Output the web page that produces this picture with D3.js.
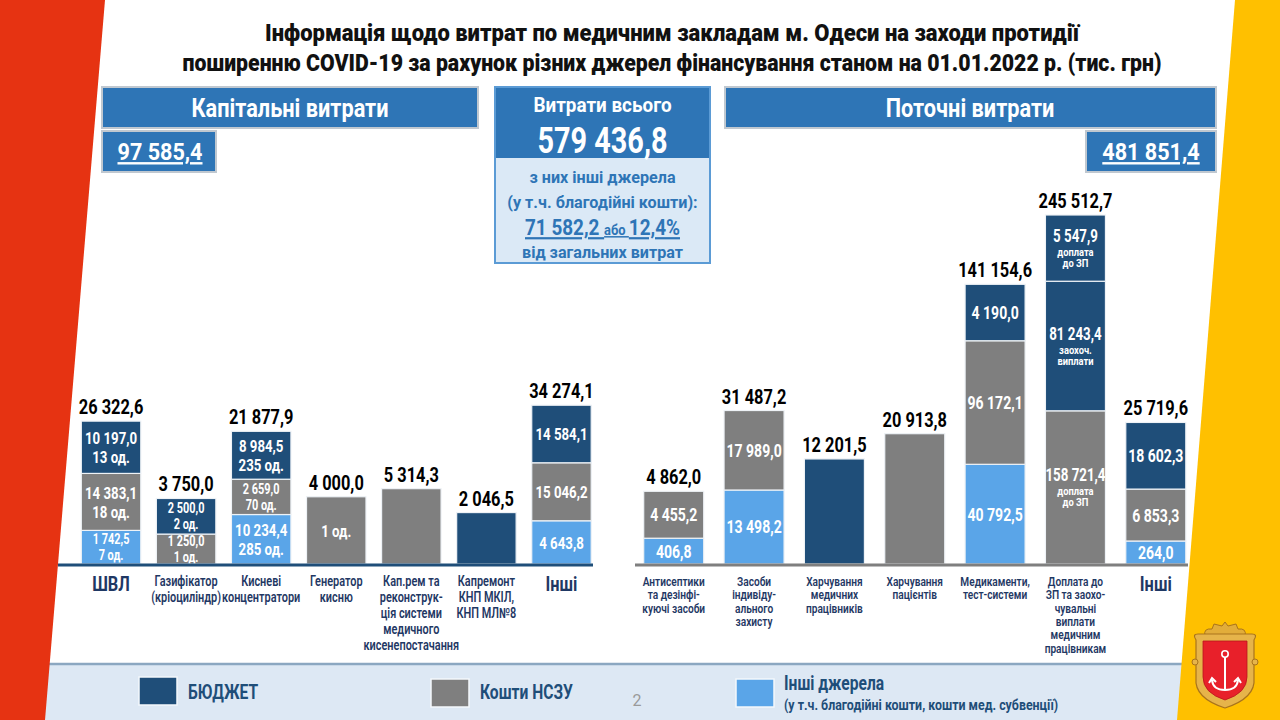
<!DOCTYPE html>
<html><head><meta charset="utf-8">
<script src="https://cdn.jsdelivr.net/npm/d3@7"></script>
<style>
html,body{margin:0;padding:0;background:#fff;}
svg{display:block;}
text{font-family:Roboto,"Noto Sans","DejaVu Sans",sans-serif;}
</style></head><body>
<svg id="chart" width="1280" height="720"></svg>
<script>
// ---------------- DATA ----------------
const titleLines = [
  "Інформація щодо витрат по медичним закладам м. Одеси на заходи протидії",
  "поширенню COVID-19 за рахунок різних джерел фінансування станом на 01.01.2022 р. (тис. грн)"
];
// Capital expenditures
const capCategories = [
  ["ШВЛ"], ["Газифікатор","(кріоциліндр)"], ["Кисневі","концентратори"], ["Генератор","кисню"],
  ["Кап.рем та","реконструк-","ція системи","медичного","кисенепостачання"],
  ["Капремонт","КНП МКІЛ,","КНП МЛ№8"], ["Інші"]
];
const capBudget = [10197.0, 2500.0, 8984.5, 0, 0, 2046.5, 14584.1];
const capNSZU   = [14383.1, 1250.0, 2659.0, 4000.0, 5314.3, 0, 15046.2];
const capOther  = [1742.5, 0, 10234.4, 0, 0, 0, 4643.8];
const capBudgetUnits = ["13 од.", "2 од.", "235 од.", "", "", "", ""];
const capNSZUUnits   = ["18 од.", "1 од.", "70 од.", "1 од.", "", "", ""];
const capOtherUnits  = ["7 од.", "", "285 од.", "", "", "", ""];
// Current expenditures
const curCategories = [
  ["Антисептики","та дезінфі-","куючі засоби"], ["Засоби","індивіду-","ального","захисту"],
  ["Харчування","медичних","працівників"], ["Харчування","пацієнтів"], ["Медикаменти,","тест-системи"],
  ["Доплата до","ЗП та заохо-","чувальні","виплати","медичним","працівникам"], ["Інші"]
];
const curBudget          = [0, 0, 12201.5, 0, 4190.0, 5547.9, 18602.3];
const curBudgetIncentive = [0, 0, 0, 0, 0, 81243.4, 0];
const curNSZU            = [4455.2, 17989.0, 0, 20913.8, 96172.1, 158721.4, 6853.3];
const curOther           = [406.8, 13498.2, 0, 0, 40792.5, 0, 264.0];
const curBudgetNotes     = ["", "", "", "", "", "доплата|до ЗП", ""];
const curIncentiveNotes  = ["", "", "", "", "", "заохоч.|виплати", ""];
const curNSZUNotes       = ["", "", "", "", "", "доплата|до ЗП", ""];
const legendLabels = ["БЮДЖЕТ", "Кошти НСЗУ", "Інші джерела"];
const legendSub = "(у т.ч. благодійні кошти, кошти мед. субвенції)";

// ---------------- STYLE ----------------
const C = {budget:"#1f4e79", nszu:"#7f7f7f", other:"#5aa5e8", head:"#2e75b6", navyText:"#1f3864"};
const uk = d3.formatLocale({decimal:",", thousands:" ", grouping:[3], currency:["",""]});
const fmt = uk.format(",.1f");
const pct = uk.format(".1%");

const svg = d3.select("#chart");

// condensed text helper
function T(parent, x, y, str, o={}){
  const t = parent.append("text")
    .attr("transform", `translate(${x},${y}) scale(${o.sx ?? 0.78},1)`)
    .attr("text-anchor", o.anchor || "middle")
    .attr("font-size", o.fs || 14)
    .attr("font-weight", o.fw || "bold")
    .attr("fill", o.fill || "#000");
  if (str != null) t.text(str);
  return t;
}

// bottom band
svg.append("rect").attr("x",0).attr("y",664).attr("width",1280).attr("height",56).attr("fill","#dde8f4");
svg.append("line").attr("x1",0).attr("x2",1280).attr("y1",664).attr("y2",664).attr("stroke","#8ba7c1").attr("stroke-width",2.5);

// title
titleLines.forEach((t,i)=>{
  svg.append("text").attr("x",672).attr("y",41+i*30).attr("text-anchor","middle")
    .attr("font-size",23).attr("font-weight",900).attr("fill","#111")
    .attr("textLength", i===0?814:979).attr("lengthAdjust","spacingAndGlyphs").text(t);
});

// bars data
function buildBars(cats, series){
  return cats.map((c,i)=>{
    const segs = series.map(s=>({key:s.key, color:s.color, v:s.values[i], notes:s.notes? s.notes[i]:""})).filter(d=>d.v>0);
    return {cat:c, i, segs, total:d3.sum(segs,d=>d.v)};
  });
}
const capBars = buildBars(capCategories, [
  {key:"other", color:C.other, values:capOther, notes:capOtherUnits},
  {key:"nszu", color:C.nszu, values:capNSZU, notes:capNSZUUnits},
  {key:"budget", color:C.budget, values:capBudget, notes:capBudgetUnits}
]);
const curBars = buildBars(curCategories, [
  {key:"other", color:C.other, values:curOther},
  {key:"nszu", color:C.nszu, values:curNSZU, notes:curNSZUNotes},
  {key:"inc", color:C.budget, values:curBudgetIncentive, notes:curIncentiveNotes},
  {key:"budget", color:C.budget, values:curBudget, notes:curBudgetNotes}
]);
const capTotal = d3.sum(capBars,d=>d.total);
const curTotal = d3.sum(curBars,d=>d.total);
const otherTotal = d3.sum(capOther)+d3.sum(curOther);
const grandTotal = capTotal+curTotal;

// header boxes
function box(x,y,w,h,fill,stroke){
  svg.append("rect").attr("x",x).attr("y",y).attr("width",w).attr("height",h).attr("fill",fill).attr("stroke",stroke).attr("stroke-width",2);
}
box(102,87,376,41,C.head,"#c0c8d0");
T(svg,290,116.5,"Капітальні витрати",{fs:25,fill:"#fff",sx:0.87});
box(102,131,114,41,C.head,"#c0c8d0");
T(svg,160,160,fmt(capTotal),{fs:24,fill:"#fff",sx:0.9}).style("text-decoration","underline");
box(725,87,491,41,C.head,"#c0c8d0");
T(svg,970,116.5,"Поточні витрати",{fs:25,fill:"#fff",sx:0.87});
box(1086,131,130,41,C.head,"#c0c8d0");
T(svg,1151,160,fmt(curTotal),{fs:24,fill:"#fff",sx:0.9}).style("text-decoration","underline");

// central box
box(495,87,215,176,"#dbe9f6","#5b9bd5");
svg.append("rect").attr("x",496).attr("y",88).attr("width",213).attr("height",70).attr("fill",C.head);
T(svg,602.5,112,"Витрати всього",{fs:21,fill:"#fff",sx:0.9});
T(svg,602.5,153,fmt(grandTotal),{fs:37,fill:"#fff"});
const cb = "#2e75b6";
T(svg,602.5,183,"з них інші джерела",{fs:17,fill:cb,sx:0.95});
T(svg,602.5,208,"(у т.ч. благодійні кошти):",{fs:17,fill:cb,sx:0.95});
const t71 = T(svg,602.5,235,null,{fs:22,fill:cb,sx:0.86}).style("text-decoration","underline");
t71.append("tspan").attr("font-size",22).text(fmt(otherTotal)+" ");
t71.append("tspan").attr("font-size",15).text("або ");
t71.append("tspan").attr("font-size",22).text(pct(otherTotal/grandTotal));
T(svg,602.5,258,"від загальних витрат",{fs:17,fill:cb,sx:0.95});

// ---------------- SCALES ----------------
const allTotals = capBars.concat(curBars).map(d=>d.total);
const hScale = d3.scalePow().exponent(0.4).domain([0, d3.max(allTotals)]).range([0, 349]);
const innerScale = d3.scalePow().exponent(0.25).domain([0, d3.max(allTotals)]).range([0, 1]);
const baseY = 564;

const xCap = d3.scaleBand().domain(d3.range(capBars.length)).range([73.5, 599]).paddingInner(0.208).paddingOuter(0.104);
const xCur = d3.scaleBand().domain(d3.range(curBars.length)).range([633.5, 1196]).paddingInner(0.253).paddingOuter(0.127);

function drawGroup(bars, x, opts){
  const g = svg.append("g");
  bars.forEach(b=>{
    const H = hScale(b.total);
    const weights = b.segs.map(s=>innerScale(s.v));
    const y = d3.scaleLinear().domain([0, d3.sum(weights)]).range([baseY, baseY-H]);
    let cum = 0;
    const x0 = x(b.i), bw = x.bandwidth(), cx = x0+bw/2;
    b.segs.forEach((s,k)=>{
      const y0 = y(cum), y1 = y(cum+weights[k]); cum += weights[k];
      g.append("rect").attr("x",x0).attr("y",y1).attr("width",bw).attr("height",y0-y1)
        .attr("fill",s.color).attr("stroke","#eef2f6").attr("stroke-width",1.2);
      const lines = [];
      const hSeg = y0-y1;
      const multi = b.segs.length>1;
      const notes = s.notes ? s.notes.split("|").filter(Boolean) : [];
      if (opts.units){
        const small = hSeg < 42;
        const fs = small?14:17, gap = small?16:19;
        if (multi) lines.push({t:fmt(s.v), fs, gap:0});
        if (notes.length) lines.push({t:notes[0], fs, gap: multi?gap:0});
      } else {
        if (multi) lines.push({t:fmt(s.v), fs:18, gap:0, sx: notes.length?0.74:0.78});
        notes.forEach((n,j)=>lines.push({t:n, fs:11, gap: j===0?14:11}));
      }
      if (!lines.length) return;
      let off = 0; const bl = lines.map(l=>{off+=l.gap; return off;});
      const top = -0.72*lines[0].fs, bottom = bl[bl.length-1];
      const shift = (y0+y1)/2 - (top+bottom)/2;
      lines.forEach((l,j)=>{
        T(g, cx, shift+bl[j], l.t, {fs:l.fs, fill:"#fff", sx: l.sx ?? (l.fs<14?0.85:0.78)});
      });
    });
    // total label
    T(g, cx, baseY-H-7, fmt(b.total), {fs:21});
    // category label
    if (b.cat.length===1){
      T(g, cx, 591, b.cat[0], {fs:21, fill:C.navyText});
    } else {
      b.cat.forEach((l,j)=>{
        T(g, cx, 586+j*opts.lh, l, {fs:opts.fs, fill:C.navyText, fw:600});
      });
    }
  });
}
drawGroup(capBars, xCap, {units:true, lh:16, fs:14});
drawGroup(curBars, xCur, {units:false, lh:13.3, fs:13});

// axis lines
svg.append("line").attr("x1",58).attr("x2",593).attr("y1",baseY+1).attr("y2",baseY+1).attr("stroke",C.budget).attr("stroke-width",3);
svg.append("line").attr("x1",635).attr("x2",1188).attr("y1",baseY+1).attr("y2",baseY+1).attr("stroke","#7f7f7f").attr("stroke-width",3);

// legend
const lg = [{x:139,y:677,c:C.budget,tx:188,ty:699},{x:431,y:679,c:C.nszu,tx:480,ty:699},{x:736,y:679,c:C.other,tx:784,ty:690}];
lg.forEach((l,i)=>{
  svg.append("rect").attr("x",l.x).attr("y",l.y).attr("width",38).attr("height",28).attr("fill",l.c).attr("stroke","#f4f8fc").attr("stroke-width",1.5);
  T(svg, l.tx, l.ty, legendLabels[i], {fs:20, fill:C.budget, anchor:"start"});
});
T(svg, 784, 710, legendSub, {fs:15.5, fill:C.budget, anchor:"start", sx:0.8});
T(svg, 637, 706, "2", {fs:16, fill:"#9a9a9a", fw:"normal", sx:1});

// side decorations
svg.append("polygon").attr("points","0,0 105,0 45,720 0,720").attr("fill","#e63312");
svg.append("polygon").attr("points","1235,0 1280,0 1280,720 1177,720").attr("fill","#ffc000");

// coat of arms
const ca = svg.append("g");
ca.append("path").attr("d","M1205,636 Q1203,628 1212,629 L1214,624 L1222,626 L1225,622 L1228,626 L1236,624 L1238,629 Q1247,628 1245,636 Z").attr("fill","#e2ad3a").attr("stroke","#a9741c").attr("stroke-width",1);
ca.append("path").attr("d","M1196,640 Q1192,634 1198,634 L1252,634 Q1258,634 1254,640 L1254,678 Q1256,698 1225,708 Q1194,698 1196,678 Z").attr("fill","#e6b44a").attr("stroke","#a9741c").attr("stroke-width",1.2);
ca.append("circle").attr("cx",1195).attr("cy",662).attr("r",3).attr("fill","#e6b44a").attr("stroke","#a9741c");
ca.append("circle").attr("cx",1255).attr("cy",662).attr("r",3).attr("fill","#e6b44a").attr("stroke","#a9741c");
ca.append("path").attr("d","M1203,641 L1247,641 L1247,677 Q1247,693 1225,700 Q1203,693 1203,677 Z").attr("fill","#e8202a").attr("stroke","#b8141c").attr("stroke-width",0.8);
ca.append("circle").attr("cx",1225).attr("cy",654).attr("r",3.2).attr("fill","none").attr("stroke","#fff").attr("stroke-width",1.6);
ca.append("path").attr("d","M1225,657 L1225,690 M1212,680 Q1213,690 1225,690 Q1237,690 1238,680 M1209,683 L1212,678 L1216,682 M1241,683 L1238,678 L1234,682").attr("fill","none").attr("stroke","#fff").attr("stroke-width",2);
</script>
</body></html>
